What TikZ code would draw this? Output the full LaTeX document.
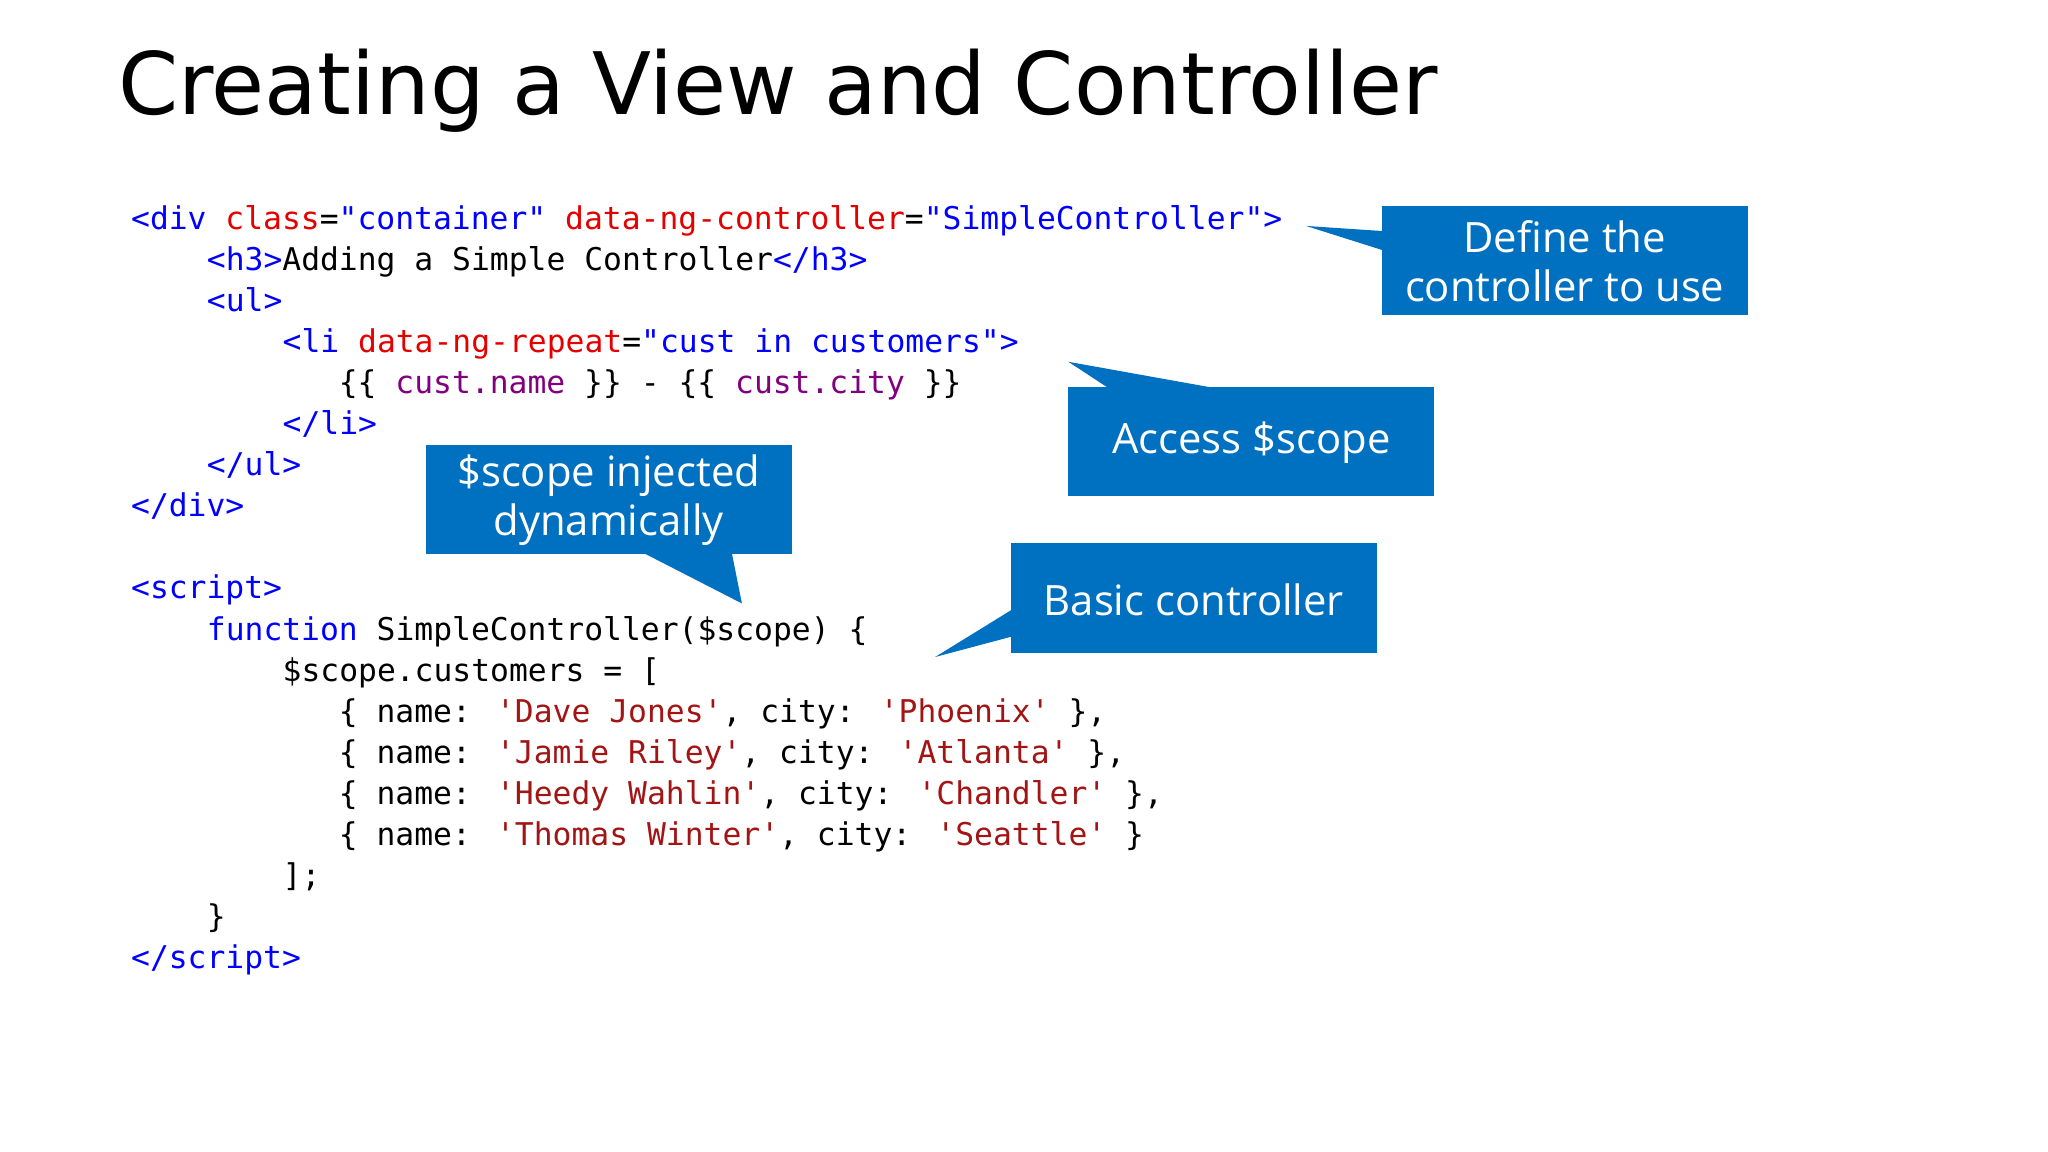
\documentclass[tikz,border=0pt]{standalone}
\usepackage{fontspec}
\setmainfont{DejaVu Sans}
\newfontfamily\codef{DejaVu Sans Mono}
\newfontfamily\callf{Open Sans}
\definecolor{tagc}{HTML}{0000FF}
\definecolor{attc}{HTML}{E50000}
\definecolor{valc}{HTML}{0000FF}
\definecolor{purp}{HTML}{800080}
\definecolor{strc}{HTML}{A31515}
\definecolor{callblue}{HTML}{0070C0}
\newcommand{\tg}[1]{\textcolor{tagc}{#1}}
\newcommand{\at}[1]{\textcolor{attc}{#1}}
\newcommand{\vl}[1]{\textcolor{valc}{#1}}
\newcommand{\pp}[1]{\textcolor{purp}{#1}}
\newcommand{\st}[1]{\textcolor{strc}{#1}}
\begin{document}
\begin{tikzpicture}[x=0.5pt,y=-0.5pt,
  code/.style={anchor=base west,inner sep=0,font=\codef\fontsize{12pt}{14pt}\selectfont},
  callout/.style={fill=callblue,draw=none},
  calltext/.style={text=white,align=center,font=\callf\fontsize{16pt}{18.5pt}\selectfont}]
\useasboundingbox (0,0) rectangle (1568,882);
\fill[white] (0,0) rectangle (1568,882);
\node[anchor=base west,inner sep=0,font=\fontsize{33pt}{38pt}\selectfont] (title) at (90,88) {Creating a View and Controller};
% code
\def\ly#1{\numexpr 176+#1*314/10\relax}
\node[code] (l0) at (100,176) {\tg{<div} \at{class}=\vl{"container"} \at{data-ng-controller}=\vl{"SimpleController"}\tg{>}};
\node[code] (l1) at (158,207.4) {\tg{<h3>}Adding a Simple Controller\tg{</h3>}};
\node[code] (l2) at (158,238.8) {\tg{<ul>}};
\node[code] (l3) at (216,270.2) {\tg{<li} \at{data-ng-repeat}=\vl{"cust in customers"}\tg{>}};
\node[code] (l4) at (259,301.6) {\{\{ \pp{cust.name} \}\} - \{\{ \pp{cust.city} \}\}};
\node[code] (l5) at (216,333) {\tg{</li>}};
\node[code] (l6) at (158,364.4) {\tg{</ul>}};
\node[code] (l7) at (100,395.8) {\tg{</div>}};
\node[code] (l9) at (100,458.6) {\tg{<script>}};
\node[code] (l10) at (158,490) {\tg{function} SimpleController(\$scope) \{};
\node[code] (l11) at (216,521.4) {\$scope.customers = [};
\node[code] (l12) at (259,552.8) {\{ name: \st{'Dave Jones'}, city: \st{'Phoenix'} \},};
\node[code] (l13) at (259,584.2) {\{ name: \st{'Jamie Riley'}, city: \st{'Atlanta'} \},};
\node[code] (l14) at (259,615.6) {\{ name: \st{'Heedy Wahlin'}, city: \st{'Chandler'} \},};
\node[code] (l15) at (259,647) {\{ name: \st{'Thomas Winter'}, city: \st{'Seattle'} \}};
\node[code] (l16) at (216,678.4) {];};
\node[code] (l17) at (158,709.8) {\}};
\node[code] (l18) at (100,741.2) {\tg{</script>}};
% callouts
\coordinate (t1) at (1000,173);
\fill[callout] (1058,158) rectangle (1338,241);
\fill[callout] (1060,177) -- (t1) -- (1060,192) -- cycle;
\node[calltext] (c1) at (1198,200) {Define the\\controller to use};
\coordinate (t2) at (818,277);
\fill[callout] (818,296) rectangle (1098,380);
\fill[callout] (850,298) -- (t2) -- (935,298) -- cycle;
\node[calltext] (c2) at (958,339) {Access \$scope};
\coordinate (t3) at (568,462);
\fill[callout] (326,341) rectangle (606,424);
\fill[callout] (490,422) -- (t3) -- (560,422) -- cycle;
\node[calltext] (c3) at (466,383) {\$scope injected\\dynamically};
\coordinate (t4) at (716,503);
\fill[callout] (774,416) rectangle (1054,500);
\fill[callout] (776,466) -- (t4) -- (776,487) -- cycle;
\node[calltext] (c4) at (914,459) {Basic controller};
\end{tikzpicture}
\end{document}
